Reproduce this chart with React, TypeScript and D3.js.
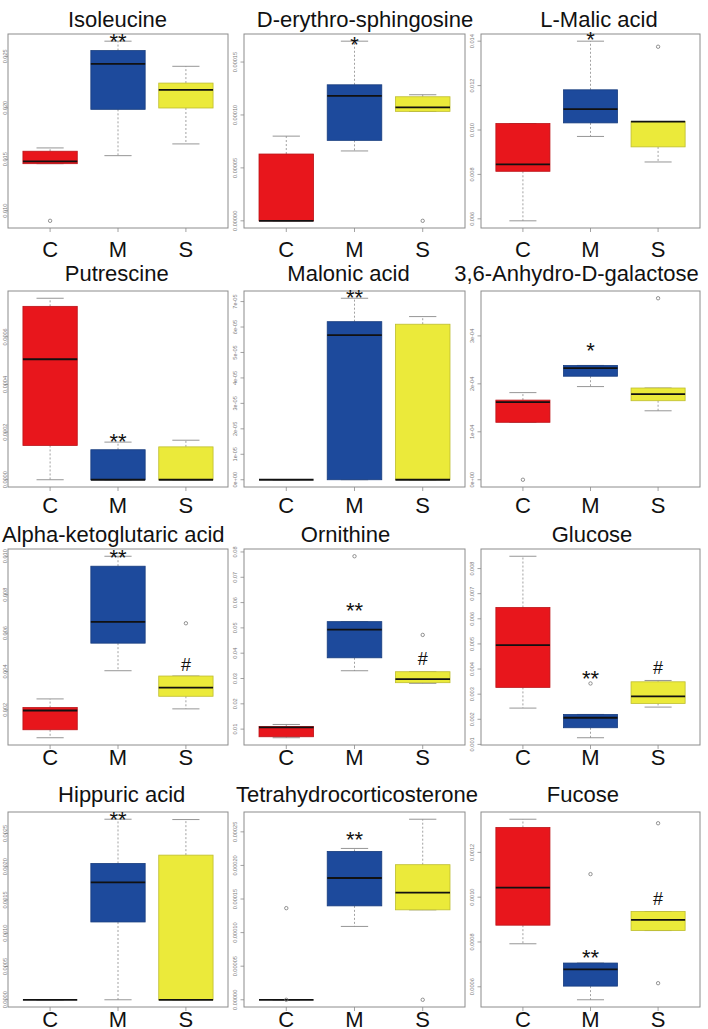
import React from "react";
import * as d3 from "d3";

const groups = ["C", "M", "S"];
const groupFill = ["#e8161c", "#1d4a9c", "#ebea3a"];

// five-number summaries per group: [lowWhisker, q1, median, q3, highWhisker]
const isoleucineBox = [
  [0.01457, 0.01457, 0.0148, 0.01578, 0.0161],
  [0.01535, 0.01985, 0.02426, 0.02556, 0.02647],
  [0.01649, 0.01998, 0.02174, 0.0224, 0.02403],
];
const isoleucineOut = [[0.00902], [], []];
const isoleucineTicks = ["0.010", "0.015", "0.020", "0.025"];
const isoleucineMarks: [number, number, string][] = [[1, 0.02697, "**"]];

const sphingosineBox = [
  [0, 0, 0, 0.0000631, 0.00008],
  [0.000066, 0.000076, 0.0001181, 0.0001285, 0.0001697],
  [0.0001034, 0.0001034, 0.0001072, 0.0001172, 0.0001191],
];
const sphingosineOut = [[], [], [0]];
const sphingosineTicks = ["0.00000", "0.00005", "0.00010", "0.00015"];
const sphingosineMarks: [number, number, string][] = [[1, 0.0001718, "*"]];

const malicBox = [
  [0.00591, 0.00814, 0.00845, 0.01029, 0.01029],
  [0.00971, 0.01032, 0.01094, 0.01181, 0.014],
  [0.00856, 0.00924, 0.01038, 0.01038, 0.01038],
];
const malicOut = [[], [], [0.01375]];
const malicTicks = ["0.006", "0.008", "0.010", "0.012", "0.014"];
const malicMarks: [number, number, string][] = [[1, 0.01431, "*"]];

const putrescineBox = [
  [0, 0.000144, 0.000506, 0.000728, 0.000762],
  [0, 0, 0, 0.000126, 0.000158],
  [0, 0, 0, 0.000138, 0.000166],
];
const putrescineOut = [[], [], []];
const putrescineTicks = ["0.0000", "0.0002", "0.0004", "0.0006"];
const putrescineMarks: [number, number, string][] = [[1, 0.000184, "**"]];

const malonicBox = [
  [0, 0, 0, 0, 0],
  [0, 0, 0.0000568, 0.0000621, 0.0000713],
  [0, 0, 0, 0.0000611, 0.0000641],
];
const malonicOut = [[], [], []];
const malonicTicks = ["0e+00", "1e-05", "2e-05", "3e-05", "4e-05", "5e-05", "6e-05", "7e-05"];
const malonicMarks: [number, number, string][] = [[1, 0.0000738, "**"]];

const anhydroBox = [
  [0.0001198, 0.0001198, 0.0001619, 0.0001661, 0.0001817],
  [0.0001943, 0.0002159, 0.0002327, 0.0002384, 0.0002384],
  [0.0001438, 0.0001648, 0.0001787, 0.0001913, 0.0001913],
];
const anhydroOut = [[0], [], [0.0003785]];
const anhydroTicks = ["0e+00", "1e-04", "2e-04", "3e-04"];
const anhydroMarks: [number, number, string][] = [[1, 0.000281, "*"]];

const ketoglutaricBox = [
  [0.000548, 0.000964, 0.001966, 0.00212, 0.00257],
  [0.004038, 0.005474, 0.006578, 0.009482, 0.01],
  [0.002052, 0.002708, 0.003158, 0.003762, 0.003762],
];
const ketoglutaricOut = [[], [], [0.00651]];
const ketoglutaricTicks = ["0.002", "0.004", "0.006", "0.008", "0.010"];
const ketoglutaricMarks: [number, number, string][] = [
  [1, 0.010222, "**"],
  [2, 0.004336, "#"],
];

const ornithineBox = [
  [0.0066, 0.00699, 0.01066, 0.01105, 0.01184],
  [0.03307, 0.03818, 0.04932, 0.05247, 0.05247],
  [0.02809, 0.02835, 0.02979, 0.03268, 0.03268],
];
const ornithineOut = [[], [0.0783], [0.04723]];
const ornithineTicks = ["0.01", "0.02", "0.03", "0.04", "0.05", "0.06", "0.07", "0.08"];
const ornithineMarks: [number, number, string][] = [
  [1, 0.05904, "**"],
  [2, 0.03771, "#"],
];

const glucoseBox = [
  [0.002445, 0.00327, 0.00495, 0.00645, 0.00849],
  [0.001265, 0.001663, 0.00206, 0.002193, 0.002193],
  [0.002485, 0.002631, 0.002909, 0.003492, 0.003545],
];
const glucoseOut = [[], [0.003426], []];
const glucoseTicks = ["0.001", "0.002", "0.003", "0.004", "0.005", "0.006", "0.007", "0.008"];
const glucoseMarks: [number, number, string][] = [
  [1, 0.003842, "**"],
  [2, 0.004061, "#"],
];

const hippuricBox = [
  [0, 0, 0, 0, 0],
  [0, 0.00117, 0.001765, 0.00205, 0.002715],
  [0, 0, 0, 0.002175, 0.00271],
];
const hippuricOut = [[], [], []];
const hippuricTicks = ["0.0000", "0.0005", "0.0010", "0.0015", "0.0020", "0.0025"];
const hippuricMarks: [number, number, string][] = [[1, 0.002794, "**"]];

const tetrahydroBox = [
  [0, 0, 0, 0, 0],
  [0.0001092, 0.0001398, 0.0001813, 0.0002209, 0.0002253],
  [0.0001339, 0.0001339, 0.0001596, 0.0002011, 0.0002688],
];
const tetrahydroOut = [[0.0001364, 0], [], [0]];
const tetrahydroTicks = ["0.00000", "0.00005", "0.00010", "0.00015", "0.00020", "0.00025"];
const tetrahydroMarks: [number, number, string][] = [[1, 0.0002468, "**"]];

const fucoseBox = [
  [0.000792, 0.000875, 0.001043, 0.001311, 0.001348],
  [0.000542, 0.000603, 0.000678, 0.000706, 0.000706],
  [0.000851, 0.000851, 0.000899, 0.000936, 0.000936],
];
const fucoseOut = [[], [0.001103], [0.00133, 0.000616]];
const fucoseTicks = ["0.0006", "0.0008", "0.0010", "0.0012"];
const fucoseMarks: [number, number, string][] = [
  [1, 0.000755, "**"],
  [2, 0.000994, "#"],
];

const titles = [
  "Isoleucine",
  "D-erythro-sphingosine",
  "L-Malic acid",
  "Putrescine",
  "Malonic acid",
  "3,6-Anhydro-D-galactose",
  "Alpha-ketoglutaric acid",
  "Ornithine",
  "Glucose",
  "Hippuric acid",
  "Tetrahydrocorticosterone",
  "Fucose",
];

const panels = [
  { box: isoleucineBox, out: isoleucineOut, ticks: isoleucineTicks, marks: isoleucineMarks },
  { box: sphingosineBox, out: sphingosineOut, ticks: sphingosineTicks, marks: sphingosineMarks },
  { box: malicBox, out: malicOut, ticks: malicTicks, marks: malicMarks },
  { box: putrescineBox, out: putrescineOut, ticks: putrescineTicks, marks: putrescineMarks },
  { box: malonicBox, out: malonicOut, ticks: malonicTicks, marks: malonicMarks },
  { box: anhydroBox, out: anhydroOut, ticks: anhydroTicks, marks: anhydroMarks },
  { box: ketoglutaricBox, out: ketoglutaricOut, ticks: ketoglutaricTicks, marks: ketoglutaricMarks },
  { box: ornithineBox, out: ornithineOut, ticks: ornithineTicks, marks: ornithineMarks },
  { box: glucoseBox, out: glucoseOut, ticks: glucoseTicks, marks: glucoseMarks },
  { box: hippuricBox, out: hippuricOut, ticks: hippuricTicks, marks: hippuricMarks },
  { box: tetrahydroBox, out: tetrahydroOut, ticks: tetrahydroTicks, marks: tetrahydroMarks },
  { box: fucoseBox, out: fucoseOut, ticks: fucoseTicks, marks: fucoseMarks },
].map((p, i) => ({ ...p, title: titles[i] }));

// layout
const W = 708;
const H = 1029;
const colLeft = [8, 244, 481];
const colRight = [228, 465, 700];
const rowTop = [34, 291, 549, 812];
const rowBottom = [228, 487, 745, 1007];
const titleBase = [27, 281, 542, 802];
const xLabelBase = [257, 513, 765, 1027];
const titleX = [117.5, 365, 599, 116.7, 348.5, 576.5, 113.3, 345.5, 592, 121.7, 357, 582.8];

const FONT = "'Liberation Sans', Arial, Helvetica, sans-serif";
const frameColor = "#8c8c8c";
const whiskerColor = "#8a8a8a";

function Panel({ idx }: { idx: number }) {
  const p = panels[idx];
  const col = idx % 3;
  const row = Math.floor(idx / 3);
  const x0 = colLeft[col];
  const x1 = colRight[col];
  const y0 = rowTop[row];
  const y1 = rowBottom[row];
  const all = p.box.flat().concat(p.out.flat());
  const lo = d3.min(all) as number;
  const hi = d3.max(all) as number;
  const pad = (hi - lo) * 0.04;
  const y = d3.scaleLinear().domain([lo - pad, hi + pad]).range([y1, y0]);
  const x = d3.scaleLinear().domain([0.38, 3.62]).range([x0, x1]);
  const half = x(1.4) - x(1);
  const capHalf = x(1.2) - x(1);
  const labelX = Math.max(x0 - 9, 4.5);

  return (
    <g>
      <text x={titleX[idx]} y={titleBase[row]} textAnchor="middle" fontSize={22} fontFamily={FONT} fill="#111">
        {p.title}
      </text>
      <rect x={x0} y={y0} width={x1 - x0} height={y1 - y0} fill="none" stroke={frameColor} strokeWidth={1} />
      {/* y ticks */}
      {p.ticks.map((t) => {
        const v = Number(t);
        const yy = y(v);
        return (
          <g key={t}>
            <line x1={x0 - 3.5} x2={x0} y1={yy} y2={yy} stroke={frameColor} strokeWidth={0.8} />
            <text
              transform={`translate(${labelX},${yy}) rotate(-90)`}
              textAnchor="middle"
              dominantBaseline="central"
              fontSize={5.6}
              fontFamily={FONT}
              fill="#777"
            >
              {t}
            </text>
          </g>
        );
      })}
      {/* x ticks + labels */}
      {groups.map((g, gi) => (
        <g key={g}>
          <line x1={x(gi + 1)} x2={x(gi + 1)} y1={y1} y2={y1 + 4} stroke={frameColor} strokeWidth={0.8} />
          <text x={x(gi + 1)} y={xLabelBase[row]} textAnchor="middle" fontSize={22} fontFamily={FONT} fill="#111">
            {g}
          </text>
        </g>
      ))}
      {/* boxes */}
      {p.box.map((b, gi) => {
        const cx = x(gi + 1);
        const [lw, q1, med, q3, hw] = b;
        const fill = groupFill[gi];
        const stroke = d3.color(fill)!.darker(0.6).formatHex();
        return (
          <g key={gi}>
            <line x1={cx} x2={cx} y1={y(q3)} y2={y(hw)} stroke={whiskerColor} strokeWidth={0.8} strokeDasharray="2,2" />
            <line x1={cx} x2={cx} y1={y(q1)} y2={y(lw)} stroke={whiskerColor} strokeWidth={0.8} strokeDasharray="2,2" />
            <line x1={cx - capHalf} x2={cx + capHalf} y1={y(hw)} y2={y(hw)} stroke={whiskerColor} strokeWidth={0.9} />
            <line x1={cx - capHalf} x2={cx + capHalf} y1={y(lw)} y2={y(lw)} stroke={whiskerColor} strokeWidth={0.9} />
            <rect
              x={cx - half}
              y={y(q3)}
              width={half * 2}
              height={Math.max(0, y(q1) - y(q3))}
              fill={fill}
              stroke={stroke}
              strokeWidth={0.8}
            />
            <line x1={cx - half} x2={cx + half} y1={y(med)} y2={y(med)} stroke="#111" strokeWidth={1.8} />
            {p.out[gi].map((o, oi) => (
              <circle key={oi} cx={cx} cy={y(o)} r={1.7} fill="none" stroke="#777" strokeWidth={0.8} />
            ))}
          </g>
        );
      })}
      {/* significance marks */}
      {p.marks.map(([gi, v, t], mi) => {
        const isStar = t.startsWith("*");
        const fs = isStar ? 22 : 18;
        const off = isStar ? 13 : 6.3;
        return (
          <text key={mi} x={x(gi + 1)} y={y(v) + off} textAnchor="middle" fontSize={fs} fontFamily={FONT} fill="#111">
            {t}
          </text>
        );
      })}
    </g>
  );
}

export default function App() {
  return (
    <svg
      width={W}
      height={H}
      viewBox={`0 0 ${W} ${H}`}
      style={{ position: "absolute", left: 0, top: 0, display: "block", background: "#fff" }}
    >
      <rect x={0} y={0} width={W} height={H} fill="#fff" />
      {panels.map((_, i) => (
        <Panel key={i} idx={i} />
      ))}
    </svg>
  );
}
